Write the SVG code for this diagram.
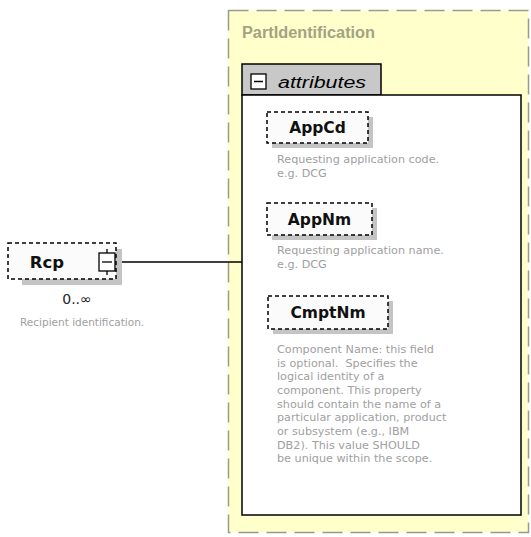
<svg xmlns="http://www.w3.org/2000/svg" width="531" height="537" viewBox="0 0 531 537">
<style>
.bg{fill:#ffffff}
.outer{fill:#ffffcc;stroke:#9a9a8a;stroke-width:1.5;stroke-dasharray:20,8}
.box{fill:#ffffff;stroke:#000;stroke-width:1.5}
.tab{fill:#c8c8c8;stroke:#000;stroke-width:1.5}
.shadow{fill:#c4c4c4}
.node{fill:#fbfbfb;stroke:#000;stroke-width:1.5;stroke-dasharray:4,3}
.name{font-family:"DejaVu Sans",sans-serif;font-weight:bold;font-size:15.5px;fill:#111}
.desc{font-family:"DejaVu Sans",sans-serif;font-size:11.2px;fill:#a0a0a0}
.title{font-family:"Liberation Sans",sans-serif;font-weight:bold;font-size:16px;fill:#a3a382}
.attr{font-family:"Liberation Sans",sans-serif;font-style:italic;font-size:16px;fill:#000}
.line{stroke:#000;stroke-width:1.5;fill:none}
</style>
<rect class="bg" x="0" y="0" width="531" height="537"/>
<g id="PartIdentification">
<rect class="outer" x="228.5" y="10.5" width="300" height="522"/>
<text class="title" x="242" y="38" textLength="133" lengthAdjust="spacingAndGlyphs">PartIdentification</text>
</g>
<g id="attributes">
<path class="tab" d="M242,95 V64 H381 V95 Z"/>
<rect class="box" x="242" y="95" width="279" height="420"/>
<rect x="251" y="74" width="15" height="15" fill="#fff" stroke="#000" stroke-width="1.3"/>
<line x1="254" y1="81.5" x2="263" y2="81.5" stroke="#000" stroke-width="1.5"/>
<text class="attr" x="278" y="88" textLength="88" lengthAdjust="spacingAndGlyphs">attributes</text>
</g>
<g id="AppCd">
<rect class="shadow" x="272" y="117" width="101" height="31"/>
<rect class="node" x="267" y="112" width="101" height="31"/>
<text class="name" x="317.5" y="133" text-anchor="middle">AppCd</text>
<text class="desc" x="277" y="163">Requesting application code.</text>
<text class="desc" x="277" y="177">e.g. DCG</text>
</g>
<g id="AppNm">
<rect class="shadow" x="272" y="208" width="105" height="32"/>
<rect class="node" x="267" y="203" width="105" height="32"/>
<text class="name" x="319.5" y="225" text-anchor="middle">AppNm</text>
<text class="desc" x="277" y="254">Requesting application name.</text>
<text class="desc" x="277" y="268">e.g. DCG</text>
</g>
<g id="CmptNm">
<rect class="shadow" x="273" y="301" width="120" height="33"/>
<rect class="node" x="268" y="296" width="120" height="33"/>
<text class="name" x="328" y="318" text-anchor="middle">CmptNm</text>
<text class="desc" x="277" y="353">Component Name: this field</text>
<text class="desc" x="277" y="367" xml:space="preserve">is optional.  Specifies the</text>
<text class="desc" x="277" y="380">logical identity of a</text>
<text class="desc" x="277" y="394">component. This property</text>
<text class="desc" x="277" y="408">should contain the name of a</text>
<text class="desc" x="277" y="421">particular application, product</text>
<text class="desc" x="277" y="435">or subsystem (e.g., IBM</text>
<text class="desc" x="277" y="449">DB2). This value SHOULD</text>
<text class="desc" x="277" y="462">be unique within the scope.</text>
</g>
<g id="connectors">
<line class="line" x1="117" y1="262" x2="242" y2="262"/>
</g>
<g id="Rcp">
<rect class="shadow" x="22" y="249" width="100" height="36"/>
<rect class="node" x="8" y="243" width="108" height="36"/>
<text class="name" x="47" y="268" text-anchor="middle" style="font-size:16.5px">Rcp</text>
<rect x="99" y="253" width="16" height="18" fill="#fff" stroke="#000" stroke-width="1.3"/>
<line x1="102" y1="262" x2="112" y2="262" stroke="#000" stroke-width="1.3"/>
<line x1="107" y1="249" x2="107" y2="253" stroke="#000" stroke-width="1.3"/>
<line x1="107" y1="271" x2="107" y2="275" stroke="#000" stroke-width="1.3"/>
<text x="77" y="304" text-anchor="middle" font-family="DejaVu Sans, sans-serif" font-size="14" fill="#222">0..∞</text>
<text class="desc" x="20" y="326" style="font-size:10.5px">Recipient identification.</text>
</g>
</svg>
